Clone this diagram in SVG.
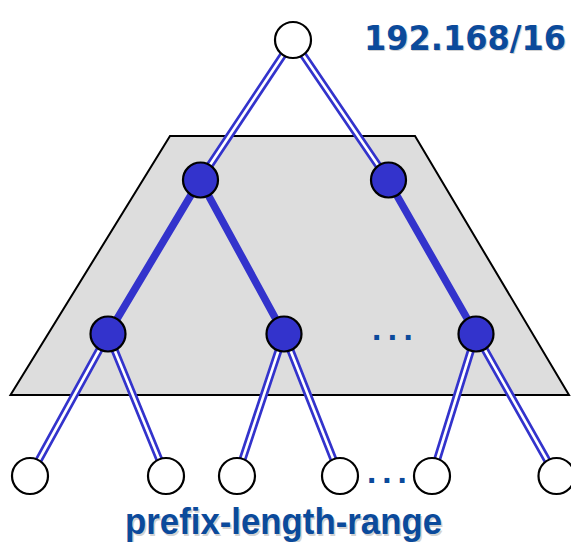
<svg xmlns="http://www.w3.org/2000/svg" xmlns:xlink="http://www.w3.org/1999/xlink" width="571" height="542" viewBox="0 0 571 542">
  <style>
    .plane { fill: #dddddd; stroke: #000000; stroke-width: 2; stroke-linejoin: miter; }
    .dbl-out { fill: none; stroke: #3333cc; stroke-width: 8; }
    .dbl-in { fill: none; stroke: #ffffff; stroke-width: 2.6; }
    .thick { fill: none; stroke: #3333cc; stroke-width: 7.5; }
    .inner { fill: #3333cc; stroke: #000000; stroke-width: 2.2; }
    .leaf { fill: #ffffff; stroke: #000000; stroke-width: 2.2; }
    .label { fill: #0b4a9b; font-weight: bold; }
    .shadow { fill: #d2d2d2; font-weight: bold; }
    .mono { font-family: "DejaVu Sans", Verdana, sans-serif; }
    .sans { font-family: "Liberation Sans", Arial, sans-serif; }
  </style>
  <defs>
    <!-- double-line edges: root to first level, second level to leaves -->
    <path id="dbl" d="M293,40 L200,180 M293,40 L388,180
                      M108,334 L30,476 M108,334 L166,476
                      M284,334 L237,476 M284,334 L340,476
                      M476,334 L432,476 M476,334 L556,476"/>
  </defs>

  <!-- sub-tree plane -->
  <polygon class="plane" points="170,136 415,136 569,395 10.5,395"/>

  <g id="connectors">
    <use xlink:href="#dbl" class="dbl-out"/>
    <use xlink:href="#dbl" class="dbl-in"/>
    <path class="thick" d="M200,180 L108,334 M200,180 L284,334 M388,180 L476,334"/>
  </g>

  <g id="root"><circle class="leaf" cx="293" cy="40" r="18"/></g>
  <g id="n1a"><circle class="inner" cx="200.5" cy="180" r="17.5"/></g>
  <g id="n1b"><circle class="inner" cx="388.5" cy="180" r="17.5"/></g>
  <g id="n2a"><circle class="inner" cx="108" cy="334" r="17.5"/></g>
  <g id="n2b"><circle class="inner" cx="284" cy="334" r="17.5"/></g>
  <g id="n2c"><circle class="inner" cx="476" cy="334" r="17.5"/></g>
  <g id="leaf1"><circle class="leaf" cx="30" cy="476" r="18"/></g>
  <g id="leaf2"><circle class="leaf" cx="166" cy="476" r="18"/></g>
  <g id="leaf3"><circle class="leaf" cx="237" cy="476" r="18"/></g>
  <g id="leaf4"><circle class="leaf" cx="340" cy="476" r="18"/></g>
  <g id="leaf5"><circle class="leaf" cx="432" cy="476" r="18"/></g>
  <g id="leaf6"><circle class="leaf" cx="556.5" cy="476" r="18"/></g>

  <!-- ellipses -->
  <text class="label mono" x="371.5" y="340" font-size="27" letter-spacing="5.5">...</text>
  <text class="label mono" x="366.5" y="483" font-size="27" letter-spacing="5">...</text>

  <!-- labels -->
  <g id="prefix-label">
    <text class="shadow mono" x="365" y="51" font-size="33" textLength="202" lengthAdjust="spacingAndGlyphs">192.168/16</text>
    <text class="label mono" x="364" y="50" font-size="33" textLength="202" lengthAdjust="spacingAndGlyphs">192.168/16</text>
  </g>
  <g id="range-label">
    <text class="shadow sans" x="126.5" y="535.5" font-size="37" textLength="317" lengthAdjust="spacingAndGlyphs">prefix-length-range</text>
    <text class="label sans" x="125" y="534" font-size="37" textLength="317" lengthAdjust="spacingAndGlyphs">prefix-length-range</text>
  </g>
</svg>
